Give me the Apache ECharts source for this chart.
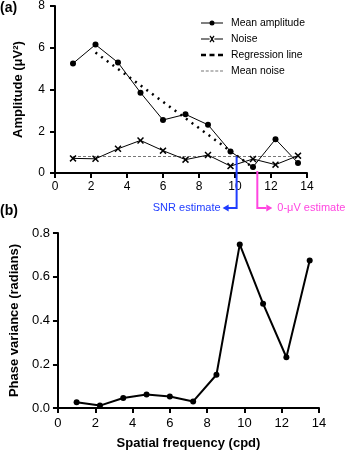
<!DOCTYPE html>
<html><head><meta charset="utf-8">
<script src="https://cdn.jsdelivr.net/npm/echarts@6/dist/echarts.min.js"></script>
<style>html,body{margin:0;padding:0;background:#fff}#c{width:350px;height:454px}</style>
</head><body><div id="c"></div>
<script>
// ---- data ----
var freq = [1, 2.25, 3.5, 4.75, 6, 7.25, 8.5, 9.75, 11, 12.25, 13.5];
var meanAmp = [5.25, 6.15, 5.29, 3.85, 2.54, 2.81, 2.31, 1.03, 0.29, 1.62, 0.48];
var noise = [0.70, 0.68, 1.16, 1.56, 1.07, 0.64, 0.86, 0.33, 0.67, 0.40, 0.83];
var meanNoiseX = [1, 13.5];
var meanNoiseY = [0.79, 0.79];
var regX = [2.25, 11.1];
var regY = [5.77, 0.2];
var phaseVar = [0.026, 0.011, 0.046, 0.062, 0.053, 0.030, 0.152, 0.748, 0.477, 0.232, 0.674];
var snrEstimate = [10.09, 0.79];
var zeroEstimate = [11.24, 0];
var xTicks = [0, 2, 4, 6, 8, 10, 12, 14];
var ampTicks = [0, 2, 4, 6, 8];
var phaseTicks = [0, 0.2, 0.4, 0.6, 0.8];

function pairs(xs, ys) { return xs.map(function (x, i) { return [x, ys[i]]; }); }

var FONT = 'Liberation Sans';
var chart = echarts.init(document.getElementById('c'), null, {renderer: 'canvas'});
var xMark = 'path://M0,1.5L1.5,0L5,3.5L8.5,0L10,1.5L6.5,5L10,8.5L8.5,10L5,6.5L1.5,10L0,8.5L3.5,5Z';

// legend icons (22 x 10 box)
var iconAmp = 'path://M0,4.5h8.6v1h-8.6z M13.4,4.5h8.6v1h-8.6z M8.5,5a2.5,2.5 0 1,1 5,0a2.5,2.5 0 1,1 -5,0z';
var iconNoise = 'path://M0,4.5h8.6v1h-8.6z M13.4,4.5h8.6v1h-8.6z M8.5,2.2L9.3,1.5L11,3.5L12.7,1.5L13.5,2.2L11.7,5L13.5,7.8L12.7,8.5L11,6.5L9.3,8.5L8.5,7.8L10.3,5Z';
var iconReg = 'path://M0,3.8h5v2.4h-5z M8.5,3.8h5v2.4h-5z M17,3.8h5v2.4h-5z';
var iconMean = 'path://M0,4.5h3v1h-3z M4.75,4.5h3v1h-3z M9.5,4.5h3v1h-3z M14.25,4.5h3v1h-3z M19,4.5h3v1h-3z';

function axisCommon(fs, margin) {
  return {
    axisLine: {show: true, onZero: false, lineStyle: {color: '#000', width: 2}},
    axisTick: {show: true, length: 5, lineStyle: {color: '#000', width: 2}},
    axisLabel: {color: '#000', fontSize: fs, fontFamily: FONT, margin: margin},
    splitLine: {show: false}
  };
}

var option = {
  animation: false,
  textStyle: {fontFamily: FONT},
  grid: [
    {left: 55, right: 43, top: 6, height: 167},
    {left: 55, right: 31, top: 233, height: 175}
  ],
  xAxis: [
    Object.assign(axisCommon(12, 8), {type: 'value', gridIndex: 0, min: xTicks[0], max: xTicks[xTicks.length - 1], interval: 2}),
    Object.assign(axisCommon(13, 9), {type: 'value', gridIndex: 1, min: xTicks[0], max: xTicks[xTicks.length - 1], interval: 2,
      name: 'Spatial frequency (cpd)', nameLocation: 'middle', nameGap: 29,
      nameTextStyle: {color: '#000', fontSize: 13, fontWeight: 'bold', fontFamily: FONT}})
  ],
  yAxis: [
    Object.assign(axisCommon(12, 10), {type: 'value', gridIndex: 0, min: ampTicks[0], max: ampTicks[ampTicks.length - 1], interval: 2,
      name: 'Amplitude (μV²)', nameLocation: 'middle', nameGap: 30,
      nameTextStyle: {color: '#000', fontSize: 13, fontWeight: 'bold', fontFamily: FONT}}),
    Object.assign(axisCommon(13, 8), {type: 'value', gridIndex: 1, min: phaseTicks[0], max: phaseTicks[phaseTicks.length - 1], interval: 0.2,
      axisLabel: {color: '#000', fontSize: 13, fontFamily: FONT, margin: 8, formatter: function (v) { return v.toFixed(1); }},
      name: 'Phase variance (radians)', nameLocation: 'middle', nameGap: 36,
      nameTextStyle: {color: '#000', fontSize: 13, fontWeight: 'bold', fontFamily: FONT}})
  ],
  legend: {
    orient: 'vertical', left: 201, top: 17, itemWidth: 22, itemHeight: 10, itemGap: 4, padding: 0,
    textStyle: {color: '#000', fontSize: 10.4, fontFamily: FONT, padding: [0, 0, 0, 3], lineHeight: 12},
    data: [
      {name: 'Mean amplitude', icon: iconAmp},
      {name: 'Noise', icon: iconNoise},
      {name: 'Regression line', icon: iconReg},
      {name: 'Mean noise', icon: iconMean}
    ]
  },
  series: [
    {name: 'Mean noise', type: 'line', xAxisIndex: 0, yAxisIndex: 0, data: pairs(meanNoiseX, meanNoiseY),
      symbol: 'none', lineStyle: {color: '#777', width: 1.2, type: [3, 2]}, itemStyle: {color: '#777'}, z: 1},
    {name: 'Regression line', type: 'line', xAxisIndex: 0, yAxisIndex: 0, data: pairs(regX, regY),
      symbol: 'none', lineStyle: {color: '#000', width: 2.5, type: [2, 5]}, itemStyle: {color: '#000'}, z: 2},
    {name: 'Noise', type: 'line', xAxisIndex: 0, yAxisIndex: 0, data: pairs(freq, noise),
      symbol: xMark, symbolSize: 7, lineStyle: {color: '#000', width: 1}, itemStyle: {color: '#000'}, z: 3},
    {name: 'Mean amplitude', type: 'line', xAxisIndex: 0, yAxisIndex: 0, data: pairs(freq, meanAmp),
      symbol: 'circle', symbolSize: 6, lineStyle: {color: '#000', width: 1}, itemStyle: {color: '#000'}, z: 4},
    {name: 'Phase variance', type: 'line', xAxisIndex: 1, yAxisIndex: 1, data: pairs(freq, phaseVar),
      symbol: 'circle', symbolSize: 6, lineStyle: {color: '#000', width: 2}, itemStyle: {color: '#000'}, z: 4}
  ]
};
chart.setOption(option);

// annotations placed via the chart's own coordinate conversion
var snrPx = chart.convertToPixel({gridIndex: 0}, snrEstimate);
var zeroPx = chart.convertToPixel({gridIndex: 0}, zeroEstimate);
var arrowY = 208;
var BLUE = '#1f3cff', MAG = '#ff45e0';
chart.setOption({
  graphic: [
    {type: 'text', left: 0, top: 1, style: {text: '(a)', font: 'bold 14px "Liberation Sans"', fill: '#000'}},
    {type: 'text', left: 0, top: 204, style: {text: '(b)', font: 'bold 14px "Liberation Sans"', fill: '#000'}},
    {type: 'polyline', shape: {points: [[snrPx[0], snrPx[1]], [snrPx[0], arrowY], [snrPx[0] - 9, arrowY]]},
      style: {stroke: BLUE, lineWidth: 2, fill: null}, z: 10},
    {type: 'polygon', shape: {points: [[snrPx[0] - 14, arrowY], [snrPx[0] - 8, arrowY - 3.5], [snrPx[0] - 8, arrowY + 3.5]]},
      style: {fill: BLUE}, z: 10},
    {type: 'text', x: snrPx[0] - 16, y: arrowY, style: {text: 'SNR estimate', font: '11px "Liberation Sans"', fill: BLUE, align: 'right', verticalAlign: 'middle'}},
    {type: 'polyline', shape: {points: [[zeroPx[0], zeroPx[1] - 2], [zeroPx[0], arrowY], [zeroPx[0] + 9, arrowY]]},
      style: {stroke: MAG, lineWidth: 2, fill: null}, z: 10},
    {type: 'polygon', shape: {points: [[zeroPx[0] + 15, arrowY], [zeroPx[0] + 9, arrowY - 3.5], [zeroPx[0] + 9, arrowY + 3.5]]},
      style: {fill: MAG}, z: 10},
    {type: 'text', x: zeroPx[0] + 20, y: arrowY, style: {text: '0-μV estimate', font: '11px "Liberation Sans"', fill: MAG, align: 'left', verticalAlign: 'middle'}}
  ]
});
</script></body></html>
